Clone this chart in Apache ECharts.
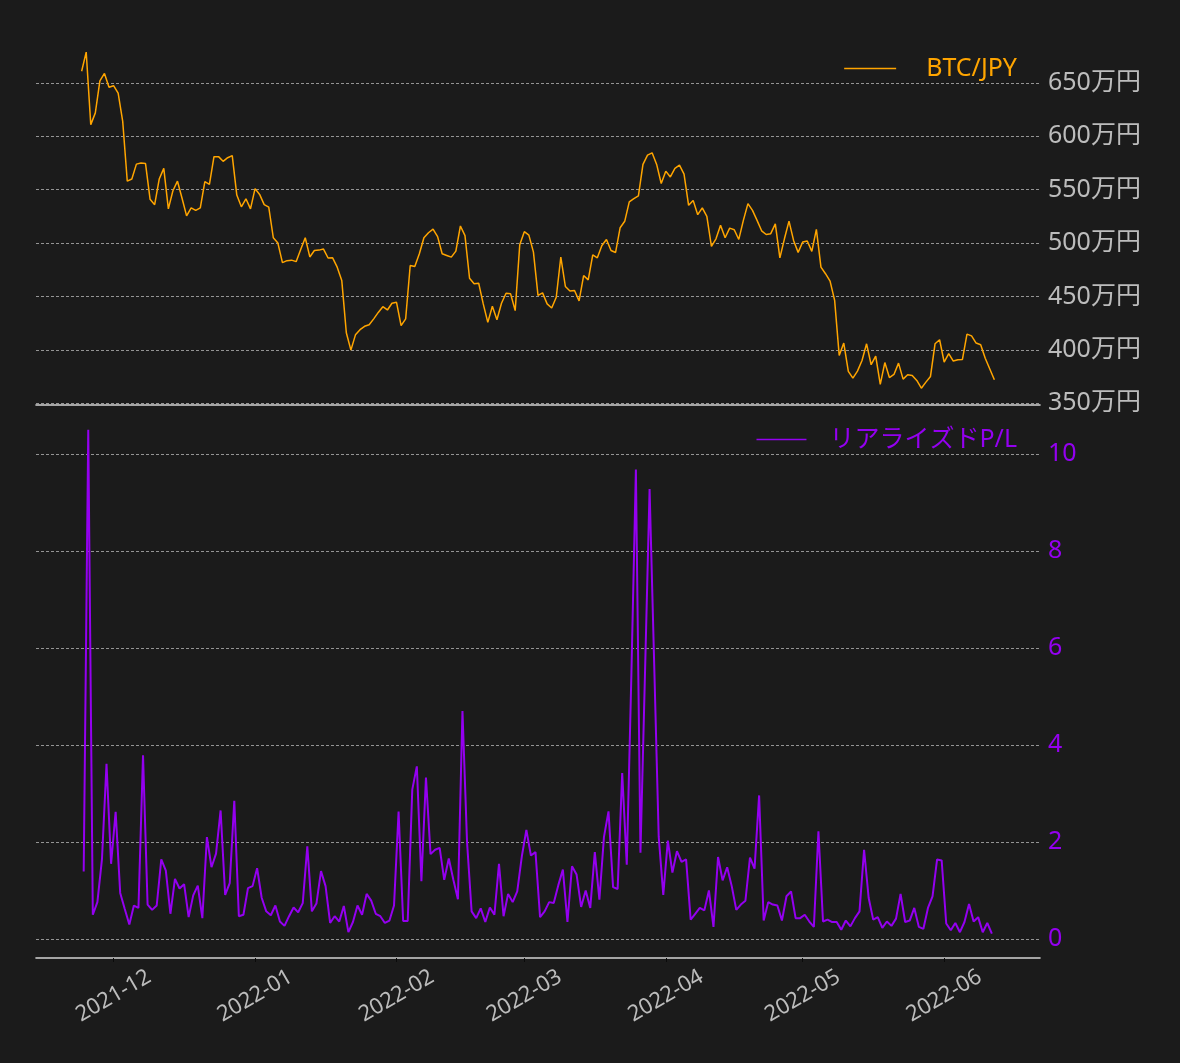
<!DOCTYPE html>
<html>
<head>
<meta charset="utf-8">
<title>BTC/JPY と リアライズドP/L</title>
<script src="https://cdn.jsdelivr.net/npm/echarts@6/dist/echarts.min.js"></script>
<style>
  html, body { margin: 0; padding: 0; background: #1b1b1b; }
  #chart { width: 1180px; height: 1063px; }
</style>
</head>
<body>
<div id="chart"></div>
<script>
// 日足 2021-11-24 〜 2022-06-12（x は firstDay からの経過日数）
var firstDay = '2021-11-24';
var padDays = 10;     // 左右の余白（日数）
var plShift = 0.45;   // P/L の記録時刻のずれ（日）

// BTC/JPY 終値（万円）
var btcJpy = [
  661, 679, 611, 622, 652, 659, 646, 647.5, 640.6, 614,
  558, 560, 574, 575, 574.5, 541, 536, 560, 570, 532,
  549, 558, 542, 525.5, 533, 530.6, 533, 557.5, 555, 581,
  581, 576.6, 580, 582, 545, 534, 541.5, 532, 551, 545.6,
  536, 533.7, 505, 500, 481.7, 483.5, 484, 482.6, 494, 505,
  487, 493, 493.4, 494.4, 486, 486.2, 477.4, 465, 416, 399.7,
  414, 418.8, 422, 423.5, 429, 435, 440.4, 437.3, 443.6, 444.5,
  422.6, 429, 479, 478, 490, 505, 509.7, 513, 506, 490,
  488.4, 486.8, 492.5, 516, 507, 467, 461.8, 462.4, 443, 425.7,
  440.8, 428.2, 443.6, 453, 452.4, 436.7, 498.4, 510.7, 507.5, 491.5,
  451, 453.3, 443, 439.2, 449.2, 486.8, 459.3, 455, 455.5, 445.8,
  469.6, 465.5, 489, 486.2, 497.8, 503.4, 493, 491.2, 514.4, 520.4,
  538.6, 541.7, 544.2, 573.7, 582.4, 584.6, 573.7, 555.8, 567.4, 562,
  570, 573, 564.6, 535.4, 540, 526.6, 533, 525, 496.9, 504,
  516.6, 505, 514, 512.5, 503.4, 521.3, 537, 530.7, 521.3, 511.5,
  508, 508.8, 518, 486.2, 504, 520.6, 502.5, 491.3, 501, 502,
  492.2, 512.8, 477.5, 471.3, 464.4, 446.3, 394.7, 406.3, 379.7, 373.4,
  380, 390, 405.6, 386, 394, 367.5, 388, 374, 376.9, 387.5,
  372.5, 376.6, 376, 371.3, 364, 369.7, 375, 405.6, 409.4, 388.4,
  396.3, 389.4, 390.6, 391, 414.7, 413, 406.3, 404.7, 392, 382,
  371.9
];

// リアライズドP/L
var realizedPL = [
  1.39, 10.5, 0.50, 0.76, 1.64, 3.61, 1.55, 2.62, 0.95, 0.62,
  0.30, 0.69, 0.64, 3.79, 0.71, 0.60, 0.69, 1.64, 1.41, 0.52,
  1.24, 1.04, 1.13, 0.45, 0.90, 1.10, 0.43, 2.10, 1.48, 1.76,
  2.65, 0.91, 1.15, 2.85, 0.47, 0.50, 1.05, 1.09, 1.46, 0.85,
  0.57, 0.49, 0.69, 0.36, 0.27, 0.47, 0.65, 0.55, 0.74, 1.91,
  0.57, 0.73, 1.40, 1.09, 0.33, 0.47, 0.36, 0.68, 0.14, 0.35,
  0.69, 0.50, 0.93, 0.79, 0.52, 0.47, 0.33, 0.38, 0.69, 2.63,
  0.37, 0.37, 3.08, 3.56, 1.19, 3.33, 1.75, 1.84, 1.88, 1.22,
  1.66, 1.22, 0.82, 4.70, 2.00, 0.57, 0.43, 0.63, 0.35, 0.65,
  0.50, 1.55, 0.47, 0.93, 0.76, 0.98, 1.70, 2.25, 1.72, 1.79,
  0.45, 0.57, 0.76, 0.74, 1.11, 1.43, 0.35, 1.50, 1.33, 0.66,
  1.00, 0.64, 1.79, 0.81, 2.10, 2.63, 1.07, 1.03, 3.42, 1.53,
  5.40, 9.68, 1.78, 5.50, 9.28, 5.70, 2.11, 0.91, 2.03, 1.37,
  1.81, 1.59, 1.64, 0.40, 0.52, 0.64, 0.59, 1.00, 0.25, 1.69,
  1.21, 1.48, 1.09, 0.60, 0.71, 0.79, 1.68, 1.45, 2.96, 0.38,
  0.76, 0.71, 0.69, 0.38, 0.88, 0.98, 0.43, 0.43, 0.50, 0.36,
  0.25, 2.22, 0.36, 0.40, 0.35, 0.35, 0.19, 0.38, 0.26, 0.43,
  0.57, 1.84, 0.85, 0.40, 0.45, 0.23, 0.36, 0.27, 0.42, 0.93,
  0.35, 0.38, 0.64, 0.25, 0.21, 0.64, 0.88, 1.64, 1.62, 0.32,
  0.18, 0.33, 0.14, 0.35, 0.72, 0.36, 0.45, 0.14, 0.33, 0.11
];

// 目盛り
var btcTicks = [350, 400, 450, 500, 550, 600, 650];
var plTicks = [0, 2, 4, 6, 8, 10];

var FONT = '"Noto Sans", "Noto Sans CJK JP", sans-serif';
var ORANGE = '#ffa500';
var PURPLE = '#9400f0';
var GRAY = '#bcbcbc';
var DAY = 86400000;
var day0 = new Date(firstDay + 'T00:00:00Z').getTime();

function dayToStr(n) {
  return new Date(day0 + Math.round(n) * DAY).toISOString().slice(0, 10);
}

// 各月1日の位置（経過日数）
function monthStarts() {
  var out = [];
  for (var i = -padDays; i <= btcJpy.length - 1 + padDays; i++) {
    if (dayToStr(i).slice(8) === '01') out.push(i);
  }
  return out;
}
var monthTicks = monthStarts();

var xMin = -padDays;
var xMax = btcJpy.length - 1 + padDays;

var chart = echarts.init(document.getElementById('chart'));

var splitStyle = {
  show: true,
  showMinLine: false,
  showMaxLine: false,
  lineStyle: { color: '#b4b4b4', width: 0.8, type: [3, 2] }
};

chart.setOption({
  backgroundColor: '#1b1b1b',
  animation: false,
  textStyle: { fontFamily: FONT },
  legend: [{
    data: ['BTC/JPY'],
    right: 163,
    top: 56,
    padding: 0,
    icon: 'rect',
    itemWidth: 52,
    itemHeight: 1.5,
    textStyle: { color: ORANGE, fontSize: 25, fontFamily: FONT, padding: [0, 0, 0, 25] }
  }, {
    data: ['リアライズドP/L'],
    right: 163,
    top: 427,
    padding: 0,
    icon: 'rect',
    itemWidth: 50,
    itemHeight: 1.5,
    textStyle: { color: PURPLE, fontSize: 25, fontFamily: FONT, padding: [0, 0, 0, 18] }
  }],
  grid: [
    { left: 36, right: 140, top: 35, height: 370 },
    { left: 36, right: 140, top: 405, height: 553 }
  ],
  xAxis: [{
    type: 'value',
    gridIndex: 0,
    min: xMin,
    max: xMax,
    axisLine: { onZero: false, lineStyle: { color: '#d4d4d4', width: 1.6 } },
    axisTick: { show: false },
    axisLabel: { show: false },
    splitLine: { show: false }
  }, {
    type: 'value',
    gridIndex: 1,
    min: xMin,
    max: xMax,
    axisLine: { onZero: false, lineStyle: { color: '#d4d4d4', width: 1.6 } },
    axisTick: { show: true, customValues: monthTicks, length: 4, lineStyle: { color: '#0a0a0a', width: 1 } },
    axisLabel: {
      customValues: monthTicks,
      formatter: function (v) { return dayToStr(v).slice(0, 7); },
      rotate: 30,
      align: 'center',
      verticalAlign: 'middle',
      margin: 38,
      color: GRAY,
      fontSize: 22,
      fontFamily: FONT
    },
    splitLine: { show: false }
  }],
  yAxis: [{
    type: 'value',
    gridIndex: 0,
    position: 'right',
    min: 348.25,
    max: 695,
    minInterval: 50,
    maxInterval: 50,
    axisLine: { show: false },
    axisTick: { show: false },
    axisLabel: {
      showMinLabel: false,
      showMaxLabel: false,
      margin: 8,
      padding: [8, 0, 0, 0],
      color: GRAY,
      fontSize: 25,
      fontFamily: FONT,
      formatter: function (v) { return btcTicks.indexOf(v) >= 0 ? v + '万円' : ''; }
    },
    splitLine: splitStyle
  }, {
    type: 'value',
    gridIndex: 1,
    position: 'right',
    min: -0.392,
    max: 11.01,
    minInterval: 2,
    maxInterval: 2,
    axisLine: { show: false },
    axisTick: { show: false },
    axisLabel: {
      showMinLabel: false,
      showMaxLabel: false,
      margin: 8,
      padding: [8, 0, 0, 0],
      color: PURPLE,
      fontSize: 25,
      fontFamily: FONT,
      formatter: function (v) { return plTicks.indexOf(v) >= 0 ? String(v) : ''; }
    },
    splitLine: splitStyle
  }],
  series: [{
    name: 'BTC/JPY',
    type: 'line',
    xAxisIndex: 0,
    yAxisIndex: 0,
    data: btcJpy.map(function (v, i) { return [i, v]; }),
    color: ORANGE,
    showSymbol: false,
    lineStyle: { color: ORANGE, width: 1.5 },
    silent: true
  }, {
    name: 'リアライズドP/L',
    type: 'line',
    xAxisIndex: 1,
    yAxisIndex: 1,
    data: realizedPL.map(function (v, i) { return [i + plShift, v]; }),
    color: PURPLE,
    showSymbol: false,
    lineStyle: { color: PURPLE, width: 2 },
    silent: true
  }]
});
</script>
</body>
</html>
